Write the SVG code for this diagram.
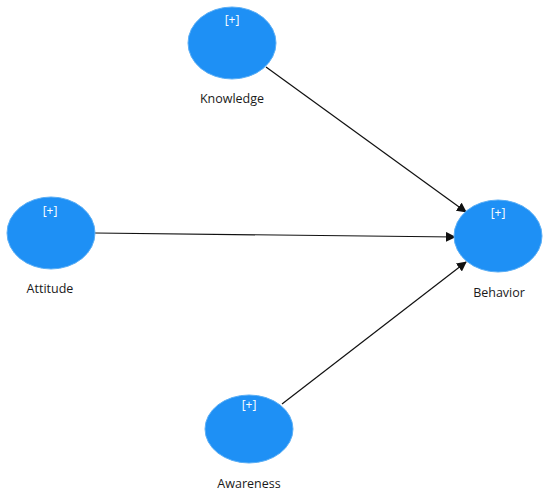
<svg xmlns="http://www.w3.org/2000/svg" width="550" height="496" viewBox="0 0 550 496">
<style>
.n{fill:#1E90F5;stroke:#5AAEF5;stroke-width:1}
.p{font-family:"Open Sans","Liberation Sans",sans-serif;font-size:12px;fill:#ffffff;text-anchor:middle}
.l{font-family:"Open Sans","Liberation Sans",sans-serif;font-size:12.5px;fill:#1a1a1a;text-anchor:middle}
.c{stroke:#111111;stroke-width:1.2;fill:none;marker-end:url(#a)}
</style>
<defs>
<marker id="a" viewBox="0 0 10 10" refX="9" refY="5" markerWidth="10" markerHeight="10" markerUnits="userSpaceOnUse" orient="auto">
<path d="M0,0 L10,5 L0,10 z" fill="#111111"/>
</marker>
</defs>
<rect width="550" height="496" fill="#ffffff"/>
<g id="connectors">
<line class="c" x1="266" y1="67" x2="466" y2="212"/>
<line class="c" x1="95" y1="233" x2="455" y2="237"/>
<line class="c" x1="282" y1="404" x2="466" y2="262"/>
</g>
<g id="knowledge">
<ellipse class="n" cx="232" cy="43" rx="44" ry="36"/>
<text class="p" x="232" y="24">[+]</text>
<text class="l" x="232" y="103">Knowledge</text>
</g>
<g id="attitude">
<ellipse class="n" cx="51" cy="233" rx="44" ry="36"/>
<text class="p" x="50" y="215">[+]</text>
<text class="l" x="50" y="293">Attitude</text>
</g>
<g id="behavior">
<ellipse class="n" cx="498" cy="236" rx="44" ry="36"/>
<text class="p" x="498" y="217">[+]</text>
<text class="l" x="499" y="297">Behavior</text>
</g>
<g id="awareness">
<ellipse class="n" cx="249" cy="429" rx="44" ry="34"/>
<text class="p" x="249" y="409">[+]</text>
<text class="l" x="249" y="488">Awareness</text>
</g>
</svg>
